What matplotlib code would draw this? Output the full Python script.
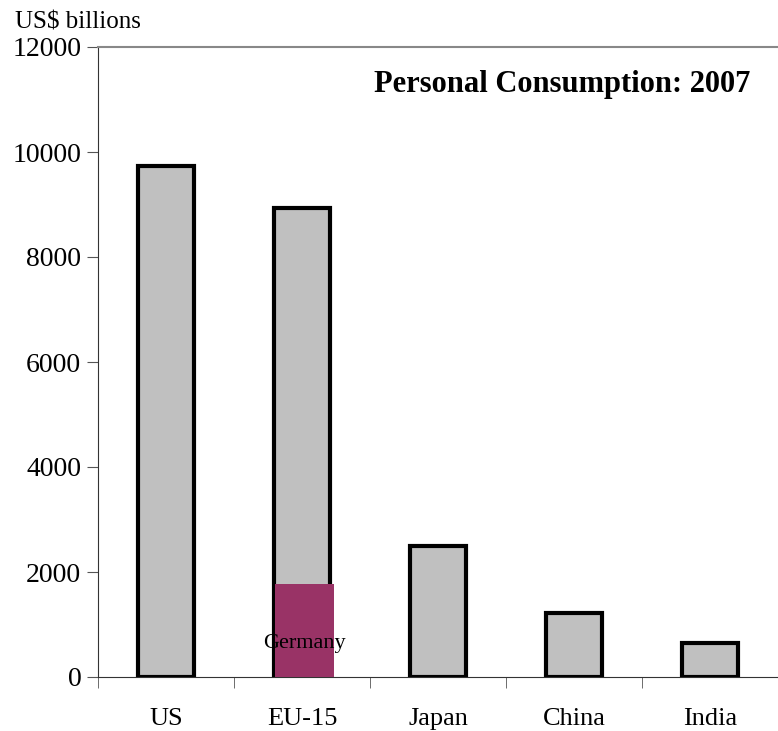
import matplotlib
matplotlib.use("Agg")
import matplotlib.pyplot as plt
import numpy as np

categories = ["US", "EU-15", "Japan", "China", "India"]
values = [9730, 8930, 2490, 1220, 640]
germany_value = 1770
germany_label = "Germany"
yticks = [0, 2000, 4000, 6000, 8000, 10000, 12000]

plt.rcParams['font.family'] = ['Liberation Serif', 'DejaVu Serif']

fig = plt.figure(figsize=(7.78, 7.31), dpi=100)
ax = fig.add_axes([98/778, 54/731, 680/778, 630/731])

x = np.arange(len(categories))
ax.bar(x, values, width=0.41, color="#c0c0c0", edgecolor="black", linewidth=3, zorder=2)
ax.bar(x[1] + 0.02, germany_value, width=0.43, color="#993366", edgecolor="none", zorder=3)
ax.text(x[1] + 0.02, 640, germany_label, ha="center", va="center", fontsize=16, zorder=4)

ax.set_xlim(-0.5, 4.5)
ax.set_ylim(0, 12000)
ax.set_yticks(yticks)
ax.set_yticklabels([str(v) for v in yticks], fontsize=20)
ax.set_xticks(x)
ax.set_xticklabels(categories, fontsize=19)
ax.set_xticks(np.arange(-0.5, 5.0, 1.0), minor=True)
ax.tick_params(axis="x", which="major", length=0, pad=22)
ax.tick_params(axis="x", which="minor", length=8, color="#555555", direction="out")
ax.tick_params(axis="y", length=8, color="#555555", direction="out", pad=4)

ax.spines["right"].set_visible(False)
ax.spines["top"].set_color("#888888")
ax.spines["top"].set_linewidth(1.5)
ax.spines["left"].set_color("#333333")
ax.spines["bottom"].set_color("#333333")

ax.text(652/680, 0.94, "Personal Consumption: 2007", transform=ax.transAxes,
        ha="right", va="center", fontsize=22, fontweight="bold")
fig.text(15/778, 1 - 22/731, "US$ billions", ha="left", va="center", fontsize=18)

fig.savefig("out.png", dpi=100)
